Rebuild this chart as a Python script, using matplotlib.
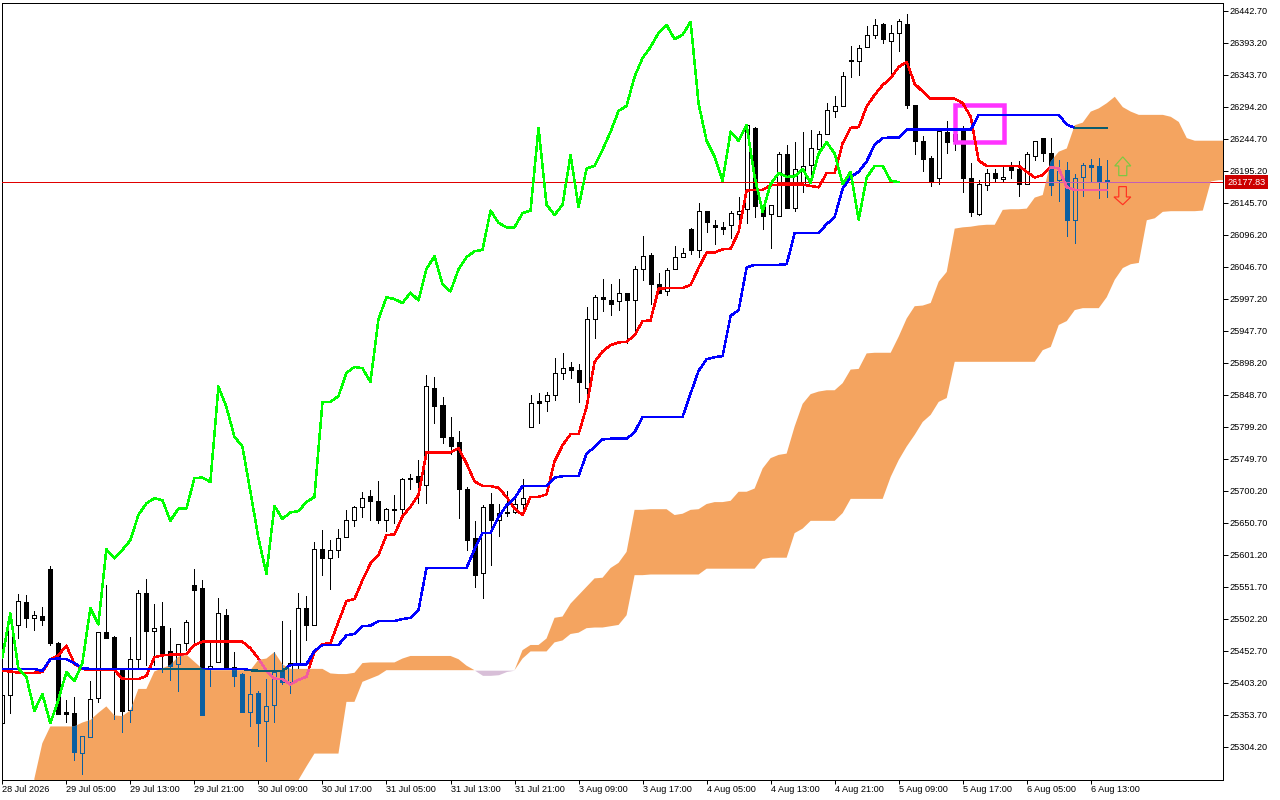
import numpy as np
import matplotlib
matplotlib.use("Agg")
import matplotlib.pyplot as plt
from matplotlib.patches import Polygon, Rectangle
from matplotlib.path import Path

# candles, one per hour
opens = [25341,25384,25493,25528,25503,25507,25580,25465,25358,25357,
         25295,25320,25380,25482,25474,25423,25362,25441,25542,25484,
         25491,25452,25432,25465,25555,25550,25425,25435,25509,25428,
         25417,25359,25387,25344,25369,25423,25405,25433,25519,25493,
         25610,25597,25609,25629,25655,25676,25693,25684,25655,25671,
         25672,25718,25723,25710,25860,25833,25783,25776,25703,25627,
         25573,25680,25656,25666,25668,25680,25799,25839,25839,25848,
         25882,25892,25888,25859,25966,26000,25995,25994,26006,25995,
         26043,26065,26020,26009,26043,26062,26105,26073,26134,26111,
         26108,26111,26128,26136,26261,26140,26128,26126,26221,26138,
         26173,26205,26229,26253,26288,26295,26366,26365,26387,26405,
         26423,26397,26408,26423,26297,26241,26216,26184,26255,26252,
         26259,26184,26129,26174,26192,26183,26201,26198,26175,26219,
         26246,26223,26182,26197,26120,26186,26204,26203,26181]
highs = [25385,25508,25541,25539,25514,25521,25584,25467,25377,25382,
         25321,25406,25482,25555,25476,25423,25474,25547,25564,25526,
         25529,25488,25463,25501,25580,25562,25465,25535,25518,25451,
         25419,25414,25391,25409,25451,25499,25485,25542,25538,25621,
         25640,25624,25641,25671,25677,25698,25702,25716,25674,25694,
         25721,25726,25748,25880,25876,25845,25814,25793,25707,25653,
         25678,25697,25680,25700,25695,25719,25849,25852,25854,25906,
         25914,25900,25897,25985,26003,26028,26021,26028,26006,26048,
         26095,26068,26037,26045,26079,26076,26107,26145,26134,26119,
         26117,26133,26155,26268,26263,26143,26143,26225,26235,26240,
         26255,26259,26257,26301,26311,26348,26388,26390,26419,26430,
         26424,26421,26430,26438,26297,26249,26219,26261,26272,26262,
         26264,26207,26181,26198,26198,26201,26209,26211,26224,26241,
         26246,26246,26212,26209,26190,26207,26213,26216,26212]
lows = [25341,25357,25473,25490,25485,25493,25462,25355,25343,25284,
        25262,25320,25374,25473,25348,25328,25343,25427,25431,25431,
        25420,25408,25391,25454,25465,25354,25398,25435,25426,25398,
        25358,25336,25306,25283,25343,25402,25388,25427,25470,25493,
        25570,25549,25598,25629,25646,25660,25655,25650,25638,25650,
        25660,25703,25681,25681,25806,25774,25757,25659,25609,25551,
        25534,25585,25630,25662,25666,25668,25799,25805,25824,25841,
        25874,25875,25838,25847,25937,25978,25972,25980,25929,25941,
        26027,25990,26007,26003,26043,26062,26067,26062,26101,26082,
        26098,26092,26114,26115,26124,26106,26076,26126,26138,26133,
        26163,26176,26220,26253,26279,26295,26340,26343,26387,26401,
        26393,26344,26381,26292,26222,26195,26172,26175,26223,26228,
        26162,26125,26127,26165,26179,26178,26184,26157,26175,26212,
        26210,26158,26149,26094,26084,26157,26178,26153,26155]
closes = [25385,25501,25530,25503,25508,25501,25465,25355,25355,25296,
          25321,25379,25482,25473,25423,25360,25441,25543,25484,25488,
          25450,25429,25463,25497,25547,25354,25429,25511,25426,25414,
          25359,25386,25341,25367,25420,25405,25434,25519,25493,25610,
          25596,25609,25627,25655,25675,25689,25684,25655,25673,25672,
          25718,25721,25714,25862,25832,25783,25769,25703,25624,25571,
          25676,25656,25666,25668,25680,25690,25837,25837,25848,25882,
          25891,25888,25868,25966,26000,25997,25990,26007,25995,26043,
          26063,26020,26007,26042,26062,26069,26073,26134,26116,26108,
          26106,26130,26134,26266,26141,26126,26142,26221,26138,26199,
          26203,26230,26253,26289,26295,26342,26367,26385,26405,26421,
          26399,26408,26427,26297,26241,26214,26180,26257,26240,26242,
          26184,26131,26175,26192,26185,26186,26197,26175,26221,26241,
          26223,26174,26195,26120,26185,26204,26201,26180,26177.83]

# ichimoku lines
tenkan = [25422,25421,25419,25419,25419,25420,25440,25446,25461,25433,
          25425,25423,25423,25423,25423,25410,25409,25409,25414,25443,
          25446,25447,25447,25448,25462,25467,25467,25467,25467,25467,
          25467,25457,25441,25422,25410,25409,25401,25408,25413,25452,
          25463,25465,25498,25530,25533,25562,25588,25601,25632,25633,
          25661,25676,25694,25760,25760,25760,25760,25766,25743,25715,
          25708,25708,25705,25691,25673,25663,25691,25691,25695,25746,
          25771,25788,25788,25830,25900,25916,25926,25930,25931,25941,
          25963,25964,26013,26014,26014,26014,26019,26045,26069,26069,
          26074,26075,26101,26165,26166,26166,26173,26174,26174,26174,
          26174,26172,26170,26192,26192,26238,26262,26263,26295,26313,
          26328,26339,26356,26364,26330,26318,26307,26307,26307,26307,
          26300,26279,26211,26203,26203,26203,26203,26203,26194,26185,
          26189,26201,26199,26170,26166,26166,26166,26166,26166]
kijun = [25425,25425,25425,25425,25425,25422,25440,25441,25440,25434,
         25426,25425,25425,25425,25425,25425,25425,25425,25425,25425,
         25425,25425,25425,25425,25425,25425,25425,25425,25425,25425,
         25425,25423,25422,25422,25422,25422,25431,25432,25432,25453,
         25462,25462,25462,25477,25479,25491,25492,25499,25499,25499,
         25502,25504,25516,25581,25581,25581,25581,25581,25581,25610,
         25635,25635,25660,25678,25689,25708,25708,25708,25708,25721,
         25723,25723,25723,25758,25768,25780,25781,25781,25781,25791,
         25815,25815,25815,25815,25815,25815,25851,25886,25904,25907,
         25909,25971,25980,26046,26050,26050,26050,26050,26051,26099,
         26099,26099,26099,26113,26124,26168,26186,26194,26210,26236,
         26246,26247,26247,26259,26259,26259,26259,26259,26259,26259,
         26259,26259,26282,26282,26282,26282,26282,26282,26282,26282,
         26282,26282,26282,26267,26262,26262,26262,26262,26262]
chikou = [25443,25511,25426,25413,25360,25386,25341,25377,25420,25406,
          25434,25519,25494,25610,25596,25609,25624,25663,25681,25689,
          25686,25654,25673,25673,25720,25721,25714,25862,25830,25784,
          25769,25699,25627,25572,25677,25657,25667,25669,25683,25691,
          25838,25838,25847,25883,25892,25890,25869,25966,26000,25997,
          25991,26007,25995,26044,26063,26020,26009,26043,26062,26071,
          26073,26134,26115,26108,26108,26130,26134,26262,26143,26127,
          26143,26220,26139,26199,26203,26228,26256,26288,26296,26341,
          26370,26387,26409,26421,26399,26406,26426,26299,26242,26217,
          26180,26256,26242,26266,26186,26132,26175,26192,26186,26187,
          26198,26177,26222,26240,26222,26175,26194,26120,26185,26203,
          26203,26180,26178]

# cloud edges, first value is bar 4
span_a = [25255,25310,25336,25336,25336,25336,25342,25346,25357,25367,
          25353,25352,25361,25394,25394,25421,25426,25431,25444,25447,
          25436,25425,25423,25423,25423,25423,25423,25423,25439,25441,
          25451,25432,25425,25425,25425,25425,25425,25418,25417,25417,
          25419,25434,25435,25435,25435,25435,25441,25445,25445,25445,
          25445,25445,25445,25440,25430,25423,25415,25415,25416,25421,
          25423,25454,25462,25462,25472,25504,25506,25526,25539,25552,
          25565,25566,25581,25589,25606,25671,25671,25672,25672,25672,
          25663,25665,25671,25672,25680,25683,25683,25685,25699,25699,
          25704,25735,25751,25756,25758,25800,25835,25850,25854,25856,
          25856,25867,25888,25889,25913,25914,25914,25914,25939,25967,
          25986,25987,25991,26024,26039,26106,26108,26109,26111,26112,
          26112,26135,26136,26136,26137,26154,26158,26210,26225,26230,
          26266,26270,26287,26292,26300,26310,26294,26287,26282,26282,
          26282,26282,26279,26271,26246,26242,26242,26242,26242,26242]
span_b = [25240,25240,25240,25240,25240,25240,25240,25240,25240,25240,
          25240,25240,25240,25240,25240,25240,25240,25240,25240,25240,
          25240,25240,25240,25240,25240,25240,25240,25240,25240,25240,
          25240,25240,25240,25253,25274,25294,25294,25294,25294,25374,
          25374,25405,25410,25415,25423,25423,25423,25423,25423,25423,
          25423,25423,25423,25423,25423,25423,25423,25423,25423,25423,
          25423,25441,25452,25452,25452,25466,25469,25479,25481,25488,
          25489,25489,25491,25493,25508,25570,25570,25571,25571,25571,
          25571,25571,25571,25571,25580,25580,25580,25580,25580,25580,
          25580,25595,25597,25597,25597,25635,25642,25654,25654,25654,
          25654,25666,25688,25688,25688,25688,25688,25722,25748,25769,
          25787,25807,25818,25838,25844,25900,25900,25900,25900,25900,
          25900,25900,25900,25900,25900,25900,25918,25923,25957,25963,
          25980,25983,25983,25983,26000,26027,26045,26051,26053,26119,
          26122,26132,26133,26133,26133,26133,26134,26179,26181,26181]

price_ticks = [26442.70,26393.20,26343.70,26294.20,26244.70,26195.20,26145.70,26096.20,
               26046.70,25997.20,25947.70,25898.20,25848.70,25799.20,25749.70,25700.20,
               25650.70,25601.20,25551.70,25502.20,25452.70,25403.20,25353.70,25304.20]
time_labels = ["28 Jul 2026","29 Jul 05:00","29 Jul 13:00","29 Jul 21:00","30 Jul 09:00",
               "30 Jul 17:00","31 Jul 05:00","31 Jul 13:00","31 Jul 21:00","3 Aug 09:00",
               "3 Aug 17:00","4 Aug 05:00","4 Aug 13:00","4 Aug 21:00","5 Aug 09:00",
               "5 Aug 17:00","6 Aug 05:00","6 Aug 13:00"]
last_price = 26177.83

PX = 0.72  # one pixel in points at dpi 100
plt.rcParams["font.family"] = ["Liberation Sans", "DejaVu Sans"]


def draw_candles(ax, x, color, up_fill, z, clip=None):
    opn = np.array(opens, dtype=float)
    cls = np.array(closes, dtype=float)
    top = np.maximum(opn, cls)
    bottom = np.minimum(opn, cls)
    # wicks stop at the body so the hollow candles stay hollow
    w1 = ax.vlines(x, lows, bottom, colors=color, linewidth=PX, zorder=z, antialiased=False)
    w2 = ax.vlines(x, top, highs, colors=color, linewidth=PX, zorder=z, antialiased=False)
    fills = [up_fill if c >= o else color for o, c in zip(opn, cls)]
    bars = ax.bar(x, top - bottom, bottom=bottom, width=0.5, color=fills, edgecolor=color,
                  linewidth=PX, zorder=z, antialiased=False)
    if clip is not None:
        w1.set_clip_path(clip, ax.transData)
        w2.set_clip_path(clip, ax.transData)
        for b in bars:
            b.set_clip_path(clip, ax.transData)


def draw_line(ax, x, y, color, cloud_color, clip, lw=1.5, z=6):
    ax.plot(x, y, color=color, lw=lw * PX, zorder=z, antialiased=False, solid_joinstyle="round")
    over, = ax.plot(x, y, color=cloud_color, lw=lw * PX, zorder=z + 0.1, antialiased=False,
                    solid_joinstyle="round")
    over.set_clip_path(clip, ax.transData)


def main():
    fig = plt.figure(figsize=(12.8, 8), dpi=100)
    ax = fig.add_axes([2 / 1280, 1 - 779.5 / 800, 1220.5 / 1280, 777 / 800])
    ax.set_xlim(-0.04, 152.46)
    ax.set_ylim(25253.9, 26455.8)

    x = np.arange(len(opens))
    draw_candles(ax, x, "black", "white", 2)

    # the cloud sits over the candles, what is under it turns blue
    cx = np.arange(4, 4 + len(span_a))
    a = np.array(span_a, dtype=float)
    b = np.array(span_b, dtype=float)
    orange = ax.fill_between(cx, a, b, where=a >= b, interpolate=True, color="#f4a460", lw=0, zorder=3)
    ax.fill_between(cx, a, b, where=a <= b, interpolate=True, color="#d8bfd8", lw=0, zorder=3)
    cloud = Path.make_compound_path(*orange.get_paths())
    draw_candles(ax, x, "#0b5fa0", (0, 0, 0, 0), 4, clip=cloud)

    draw_line(ax, [-1, 153], [last_price, last_price], "#e00000", "#c25fb5", cloud, lw=1, z=5)

    # magenta box
    ax.add_patch(Rectangle((119, 26240), 6.1, 58, fill=False, edgecolor="#ff33ff",
                           linewidth=4.5 * PX, zorder=5.5, joinstyle="miter"))

    draw_line(ax, x, tenkan, "#ff0000", "#f25c9f", cloud)
    draw_line(ax, x, kijun, "#0000ff", "#0b5c6e", cloud)
    ax.plot(np.arange(len(chikou)), chikou, color="#00ff00", lw=1.5 * PX, zorder=6, antialiased=False)

    # arrows
    up = [(140, 26217), (141, 26203), (140.5, 26203), (140.5, 26188),
          (139.5, 26188), (139.5, 26203), (139, 26203)]
    down = [(139.5, 26171), (140.45, 26171), (140.45, 26155), (141, 26155),
            (140, 26143), (138.9, 26155), (139.5, 26155)]
    ax.add_patch(Polygon(up, closed=True, fill=False, edgecolor="#7ac943", lw=1.2 * PX, zorder=7))
    ax.add_patch(Polygon(down, closed=True, fill=False, edgecolor="#ff3322", lw=1.2 * PX, zorder=7))

    ax.yaxis.tick_right()
    ax.set_yticks(price_ticks)
    ax.set_yticklabels(["%.2f" % p for p in price_ticks])
    ax.set_xticks(np.arange(len(time_labels)) * 8)
    ax.set_xticklabels(time_labels, ha="left")
    ax.tick_params(axis="y", length=3.6, width=PX, labelsize=6.6, pad=1.5)
    ax.tick_params(axis="x", length=3, width=PX, labelsize=6.6, pad=1)
    for s in ax.spines.values():
        s.set_linewidth(PX)

    # current price tag
    ax.annotate("%.2f" % last_price, xy=(1, last_price), xycoords=("axes fraction", "data"),
                xytext=(3.5, 0), textcoords="offset points", va="center", ha="left", color="white",
                fontsize=6.6, annotation_clip=False,
                bbox=dict(boxstyle="square,pad=0.25", facecolor="#cc0000", edgecolor="none"))

    fig.savefig("out.png", dpi=100)


if __name__ == "__main__":
    main()
